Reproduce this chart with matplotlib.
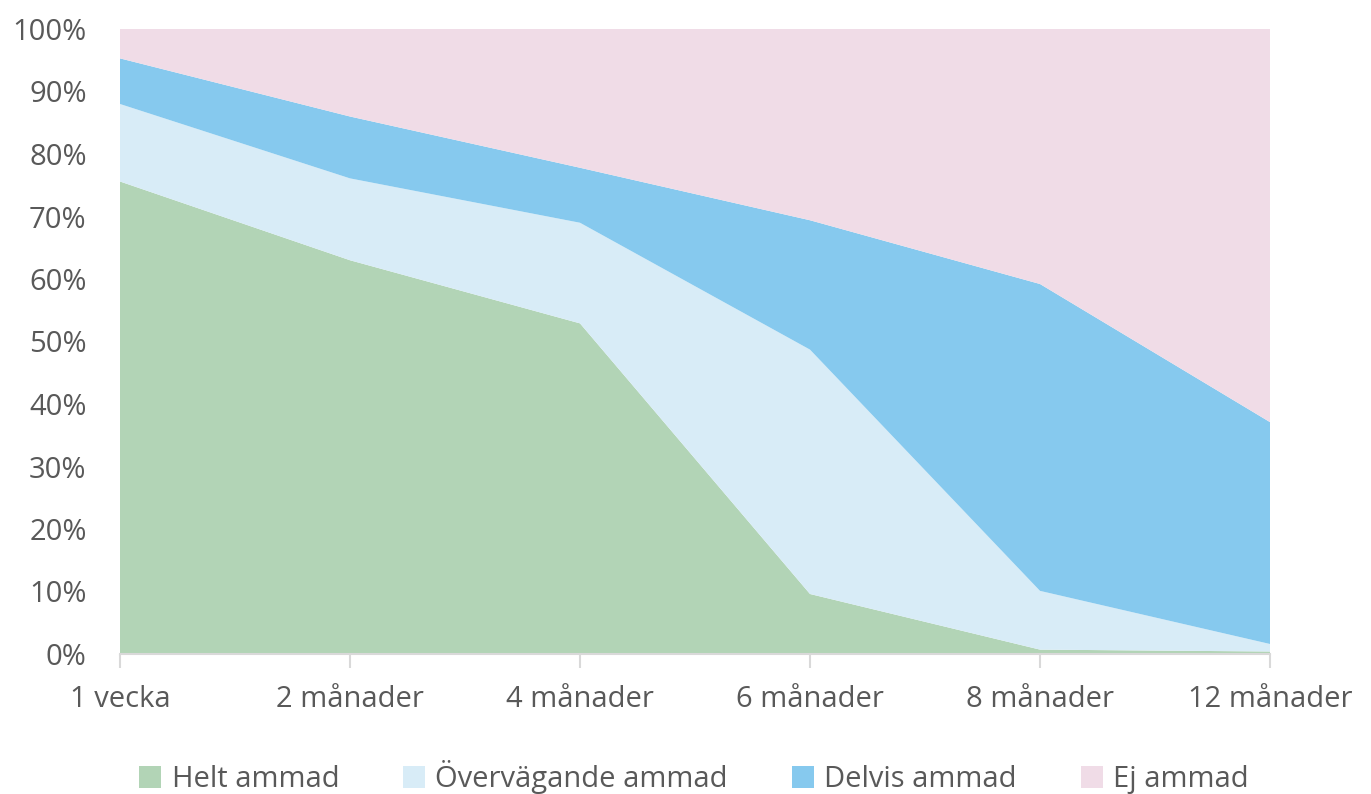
import matplotlib
matplotlib.use("Agg")
import matplotlib.pyplot as plt
from matplotlib.patches import Patch
from matplotlib.ticker import PercentFormatter

categories = ["1 vecka", "2 månader", "4 månader", "6 månader", "8 månader", "12 månader"]
series_names = ["Helt ammad", "Övervägande ammad", "Delvis ammad", "Ej ammad"]
helt = [75.6, 63.0, 52.9, 9.6, 0.7, 0.4]
overvagande = [12.4, 13.1, 16.1, 39.1, 9.4, 1.2]
delvis = [7.3, 9.9, 8.8, 20.7, 49.1, 35.5]
ej = [4.7, 14.0, 22.2, 30.6, 40.8, 62.9]

colors = ["#b2d4b6", "#d8ecf7", "#86c9ee", "#f0dce7"]
text_color = "#595959"

plt.rcParams['font.family'] = ['Open Sans', 'DejaVu Sans']

fig = plt.figure(figsize=(13.71, 7.94), dpi=100)
ax = fig.add_axes([120/1371, 1 - 654/794, 1150/1371, 625/794])

x = list(range(len(categories)))
ax.stackplot(x, helt, overvagande, delvis, ej, colors=colors, linewidth=0)

ax.set_xlim(0, len(categories) - 1)
ax.set_ylim(0, 100)
ax.set_yticks(range(0, 101, 10))
ax.yaxis.set_major_formatter(PercentFormatter(decimals=0))
ax.set_xticks(x)
ax.set_xticklabels(categories)

for s in ["top", "right", "left"]:
    ax.spines[s].set_visible(False)
ax.spines["bottom"].set_color("#d9d9d9")
ax.spines["bottom"].set_linewidth(1.5)
ax.spines["bottom"].set_zorder(5)

ax.tick_params(axis="y", length=0, labelsize=21, labelcolor=text_color, pad=24)
ax.tick_params(axis="x", length=10, width=1.5, color="#d9d9d9", labelsize=21,
               labelcolor=text_color, pad=12)

handles = [Patch(facecolor=c, edgecolor="none") for c in colors]
fig.legend(handles, series_names, loc="center", bbox_to_anchor=(694/1371, 1 - 777/794),
           ncol=4, frameon=False, fontsize=21, labelcolor=text_color,
           handlelength=0.75, handleheight=0.75, handletextpad=0.35, columnspacing=2.2)

fig.savefig("out.png", dpi=100)
